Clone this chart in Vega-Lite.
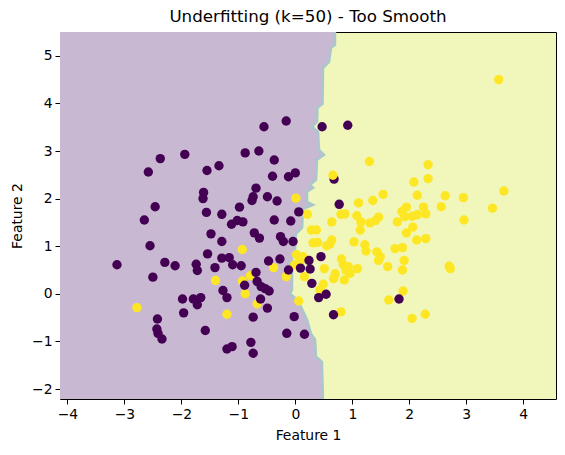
{
  "$schema": "https://vega.github.io/schema/vega-lite/v6.json",
  "width": 496,
  "height": 367,
  "autosize": "none",
  "padding": {"left": 60, "top": 32, "right": 9, "bottom": 56},
  "title": {"text": "Underfitting (k=50) - Too Smooth", "font": "DejaVu Sans", "fontSize": 16.7, "fontWeight": "normal", "color": "#000", "offset": 6},
  "config": {
    "view": {"stroke": "#000", "strokeWidth": 1, "fill": "#f1f6bb"},
    "axis": {"domain": false, "grid": false, "tickColor": "#000", "tickSize": 5, "tickWidth": 1, "labelFont": "DejaVu Sans", "labelFontSize": 13.9, "labelColor": "#000", "labelPadding": 3, "titleFont": "DejaVu Sans", "titleFontSize": 13.9, "titleFontWeight": "normal", "titleColor": "#000", "format": "d"}
  },
  "datasets": {
    "boundary": [
      {"by": 5.6, "bx": 0.696},
      {"by": 5.231, "bx": 0.696},
      {"by": 5.168, "bx": 0.626},
      {"by": 4.874, "bx": 0.591},
      {"by": 4.748, "bx": 0.486},
      {"by": 3.992, "bx": 0.477},
      {"by": 3.908, "bx": 0.389},
      {"by": 3.613, "bx": 0.381},
      {"by": 3.508, "bx": 0.293},
      {"by": 3.403, "bx": 0.398},
      {"by": 3.025, "bx": 0.416},
      {"by": 2.92, "bx": 0.504},
      {"by": 2.815, "bx": 0.381},
      {"by": 2.395, "bx": 0.363},
      {"by": 2.29, "bx": 0.258},
      {"by": 2.227, "bx": 0.311},
      {"by": 2.143, "bx": 0.205},
      {"by": 1.933, "bx": 0.205},
      {"by": 1.87, "bx": 0.311},
      {"by": 1.786, "bx": 0.135},
      {"by": 1.387, "bx": 0.118},
      {"by": 1.261, "bx": 0.012},
      {"by": 0.924, "bx": -0.005},
      {"by": 0.819, "bx": -0.058},
      {"by": 0.693, "bx": -0.058},
      {"by": 0.63, "bx": -0.111},
      {"by": 0.546, "bx": -0.058},
      {"by": 0.084, "bx": -0.058},
      {"by": 0.0, "bx": -0.093},
      {"by": -0.084, "bx": -0.005},
      {"by": -0.273, "bx": 0.1},
      {"by": -0.546, "bx": 0.205},
      {"by": -0.84, "bx": 0.275},
      {"by": -0.966, "bx": 0.346},
      {"by": -1.324, "bx": 0.363},
      {"by": -1.429, "bx": 0.467},
      {"by": -2.3, "bx": 0.486}
    ],
    "points": [
      {"x": -2.78, "y": -0.29, "c": 1},
      {"x": 0.01, "y": 2.01, "c": 1},
      {"x": 0.21, "y": 1.67, "c": 1},
      {"x": -0.93, "y": 0.93, "c": 1},
      {"x": -0.38, "y": 0.55, "c": 1},
      {"x": -0.16, "y": 0.36, "c": 1},
      {"x": 0.02, "y": 0.82, "c": 1},
      {"x": -0.01, "y": 0.61, "c": 1},
      {"x": 0.16, "y": 0.36, "c": 1},
      {"x": -0.79, "y": 0.38, "c": 1},
      {"x": -0.93, "y": 0.27, "c": 1},
      {"x": -1.4, "y": 0.28, "c": 1},
      {"x": -0.88, "y": 0.0, "c": 1},
      {"x": -0.67, "y": -0.21, "c": 1},
      {"x": 0.06, "y": -0.15, "c": 1},
      {"x": -1.2, "y": -0.43, "c": 1},
      {"x": 1.3, "y": 2.78, "c": 1},
      {"x": 2.08, "y": 2.35, "c": 1},
      {"x": 2.14, "y": 2.07, "c": 1},
      {"x": 1.11, "y": 1.91, "c": 1},
      {"x": 1.36, "y": 1.96, "c": 1},
      {"x": 1.54, "y": 2.09, "c": 1},
      {"x": 0.8, "y": 1.67, "c": 1},
      {"x": 0.87, "y": 1.68, "c": 1},
      {"x": 1.08, "y": 1.64, "c": 1},
      {"x": 1.15, "y": 1.51, "c": 1},
      {"x": 1.31, "y": 1.49, "c": 1},
      {"x": 1.46, "y": 1.61, "c": 1},
      {"x": 1.41, "y": 1.54, "c": 1},
      {"x": 0.64, "y": 1.51, "c": 1},
      {"x": 1.79, "y": 1.51, "c": 1},
      {"x": 1.87, "y": 1.73, "c": 1},
      {"x": 1.95, "y": 1.82, "c": 1},
      {"x": 1.92, "y": 1.62, "c": 1},
      {"x": 2.05, "y": 1.63, "c": 1},
      {"x": 2.14, "y": 1.66, "c": 1},
      {"x": 0.28, "y": 1.34, "c": 1},
      {"x": 0.37, "y": 1.34, "c": 1},
      {"x": 1.14, "y": 1.34, "c": 1},
      {"x": 1.95, "y": 1.28, "c": 1},
      {"x": 2.13, "y": 1.13, "c": 1},
      {"x": 0.31, "y": 1.07, "c": 1},
      {"x": 0.39, "y": 1.08, "c": 1},
      {"x": 0.55, "y": 1.01, "c": 1},
      {"x": 0.64, "y": 1.13, "c": 1},
      {"x": 0.61, "y": 1.05, "c": 1},
      {"x": 1.03, "y": 1.09, "c": 1},
      {"x": 1.22, "y": 1.03, "c": 1},
      {"x": 1.24, "y": 0.9, "c": 1},
      {"x": 1.43, "y": 0.88, "c": 1},
      {"x": 1.49, "y": 0.78, "c": 1},
      {"x": 1.46, "y": 0.7, "c": 1},
      {"x": 1.75, "y": 0.95, "c": 1},
      {"x": 1.88, "y": 0.97, "c": 1},
      {"x": 1.91, "y": 0.7, "c": 1},
      {"x": 1.88, "y": 0.5, "c": 1},
      {"x": 1.62, "y": 0.57, "c": 1},
      {"x": 0.13, "y": 0.78, "c": 1},
      {"x": 0.08, "y": 0.68, "c": 1},
      {"x": 0.51, "y": 0.53, "c": 1},
      {"x": 0.81, "y": 0.73, "c": 1},
      {"x": 0.84, "y": 0.61, "c": 1},
      {"x": 0.93, "y": 0.57, "c": 1},
      {"x": 0.89, "y": 0.49, "c": 1},
      {"x": 0.96, "y": 0.43, "c": 1},
      {"x": 1.09, "y": 0.53, "c": 1},
      {"x": 0.7, "y": 0.42, "c": 1},
      {"x": 0.67, "y": 0.32, "c": 1},
      {"x": 0.86, "y": 0.29, "c": 1},
      {"x": 0.49, "y": 0.2, "c": 1},
      {"x": 0.43, "y": 0.08, "c": 1},
      {"x": 0.8, "y": -0.38, "c": 1},
      {"x": 1.89, "y": 0.06, "c": 1},
      {"x": 1.64, "y": -0.13, "c": 1},
      {"x": 2.05, "y": -0.52, "c": 1},
      {"x": 3.57, "y": 4.5, "c": 1},
      {"x": 2.33, "y": 2.71, "c": 1},
      {"x": 2.33, "y": 2.42, "c": 1},
      {"x": 2.63, "y": 2.06, "c": 1},
      {"x": 2.95, "y": 2.02, "c": 1},
      {"x": 3.66, "y": 2.16, "c": 1},
      {"x": 3.46, "y": 1.8, "c": 1},
      {"x": 2.56, "y": 1.83, "c": 1},
      {"x": 2.25, "y": 1.82, "c": 1},
      {"x": 2.29, "y": 1.68, "c": 1},
      {"x": 2.96, "y": 1.55, "c": 1},
      {"x": 2.06, "y": 1.4, "c": 1},
      {"x": 2.29, "y": 1.16, "c": 1},
      {"x": 2.72, "y": 0.53, "c": 1},
      {"x": 2.7, "y": 0.58, "c": 1},
      {"x": 2.28, "y": -0.43, "c": 1},
      {"x": -2.37, "y": 2.84, "c": 0},
      {"x": -1.94, "y": 2.93, "c": 0},
      {"x": -2.58, "y": 2.56, "c": 0},
      {"x": -2.46, "y": 1.83, "c": 0},
      {"x": -2.65, "y": 1.55, "c": 0},
      {"x": -2.55, "y": 1.01, "c": 0},
      {"x": -3.13, "y": 0.61, "c": 0},
      {"x": -2.29, "y": 0.66, "c": 0},
      {"x": -2.11, "y": 0.59, "c": 0},
      {"x": -2.5, "y": 0.35, "c": 0},
      {"x": -1.98, "y": -0.11, "c": 0},
      {"x": -1.96, "y": -0.4, "c": 0},
      {"x": -2.42, "y": -0.53, "c": 0},
      {"x": -2.43, "y": -0.74, "c": 0},
      {"x": -2.41, "y": -0.83, "c": 0},
      {"x": -2.34, "y": -0.95, "c": 0},
      {"x": -0.16, "y": 3.63, "c": 0},
      {"x": -0.55, "y": 3.51, "c": 0},
      {"x": -0.88, "y": 2.96, "c": 0},
      {"x": -0.64, "y": 3.0, "c": 0},
      {"x": -0.37, "y": 2.81, "c": 0},
      {"x": -1.34, "y": 2.69, "c": 0},
      {"x": -1.55, "y": 2.59, "c": 0},
      {"x": -0.4, "y": 2.47, "c": 0},
      {"x": -0.12, "y": 2.46, "c": 0},
      {"x": 0.0, "y": 2.54, "c": 0},
      {"x": -1.61, "y": 2.13, "c": 0},
      {"x": -1.62, "y": 2.0, "c": 0},
      {"x": -0.69, "y": 2.22, "c": 0},
      {"x": -0.74, "y": 2.04, "c": 0},
      {"x": -0.76, "y": 1.96, "c": 0},
      {"x": -0.49, "y": 2.04, "c": 0},
      {"x": -0.32, "y": 1.95, "c": 0},
      {"x": -0.98, "y": 1.82, "c": 0},
      {"x": -1.56, "y": 1.71, "c": 0},
      {"x": -1.29, "y": 1.67, "c": 0},
      {"x": 0.06, "y": 1.72, "c": 0},
      {"x": -0.37, "y": 1.55, "c": 0},
      {"x": -0.08, "y": 1.53, "c": 0},
      {"x": -1.12, "y": 1.46, "c": 0},
      {"x": -1.02, "y": 1.54, "c": 0},
      {"x": -0.92, "y": 1.51, "c": 0},
      {"x": -1.48, "y": 1.26, "c": 0},
      {"x": -1.29, "y": 1.1, "c": 0},
      {"x": -0.72, "y": 1.28, "c": 0},
      {"x": -0.63, "y": 1.17, "c": 0},
      {"x": -0.26, "y": 1.2, "c": 0},
      {"x": -0.21, "y": 1.1, "c": 0},
      {"x": -0.04, "y": 1.1, "c": 0},
      {"x": -1.54, "y": 0.84, "c": 0},
      {"x": -1.29, "y": 0.75, "c": 0},
      {"x": -1.16, "y": 0.76, "c": 0},
      {"x": -1.1, "y": 0.61, "c": 0},
      {"x": -0.95, "y": 0.59, "c": 0},
      {"x": -1.41, "y": 0.55, "c": 0},
      {"x": -1.74, "y": 0.62, "c": 0},
      {"x": -1.72, "y": 0.49, "c": 0},
      {"x": -0.47, "y": 0.69, "c": 0},
      {"x": -0.27, "y": 0.73, "c": 0},
      {"x": -0.12, "y": 0.5, "c": 0},
      {"x": -0.69, "y": 0.45, "c": 0},
      {"x": -0.89, "y": 0.18, "c": 0},
      {"x": -0.67, "y": 0.26, "c": 0},
      {"x": -0.6, "y": 0.15, "c": 0},
      {"x": -0.53, "y": 0.11, "c": 0},
      {"x": -0.46, "y": 0.06, "c": 0},
      {"x": -1.27, "y": 0.07, "c": 0},
      {"x": -1.2, "y": -0.08, "c": 0},
      {"x": -0.61, "y": -0.11, "c": 0},
      {"x": -0.49, "y": -0.3, "c": 0},
      {"x": -1.79, "y": -0.11, "c": 0},
      {"x": -1.72, "y": -0.23, "c": 0},
      {"x": -1.66, "y": -0.08, "c": 0},
      {"x": -0.74, "y": -0.49, "c": 0},
      {"x": -0.02, "y": -0.48, "c": 0},
      {"x": -1.58, "y": -0.77, "c": 0},
      {"x": -0.15, "y": -0.83, "c": 0},
      {"x": 0.16, "y": -0.85, "c": 0},
      {"x": -0.78, "y": -1.02, "c": 0},
      {"x": -1.11, "y": -1.11, "c": 0},
      {"x": -1.2, "y": -1.16, "c": 0},
      {"x": -0.74, "y": -1.25, "c": 0},
      {"x": 0.47, "y": 3.51, "c": 0},
      {"x": 0.92, "y": 3.54, "c": 0},
      {"x": 0.68, "y": 2.41, "c": 0},
      {"x": 0.77, "y": 1.88, "c": 0},
      {"x": 0.45, "y": 0.78, "c": 0},
      {"x": 0.24, "y": 0.7, "c": 0},
      {"x": 0.09, "y": 0.54, "c": 0},
      {"x": 0.26, "y": 0.52, "c": 0},
      {"x": 0.29, "y": 0.22, "c": 0},
      {"x": 0.54, "y": -0.01, "c": 0},
      {"x": 0.41, "y": -0.08, "c": 0},
      {"x": 0.67, "y": -0.44, "c": 0},
      {"x": 1.82, "y": -0.11, "c": 0},
      {"x": 0.66, "y": 2.49, "c": 1}
    ]
  },
  "layer": [
    {
      "data": {"name": "boundary"},
      "mark": {"type": "area", "orient": "horizontal", "color": "#c8b8d1", "clip": true},
      "encoding": {
        "y": {"field": "by", "type": "quantitative", "scale": {"domain": [-2.21, 5.5], "nice": false, "zero": false}, "axis": {"title": "Feature 2", "values": [-2, -1, 0, 1, 2, 3, 4, 5], "titlePadding": 7}},
        "x": {"field": "bx", "type": "quantitative", "scale": {"domain": [-4.13, 4.575], "nice": false, "zero": false}, "axis": {"title": "Feature 1", "values": [-4, -3, -2, -1, 0, 1, 2, 3, 4], "titlePadding": 8}},
        "x2": {"datum": -4.13}
      }
    },
    {
      "data": {"name": "boundary"},
      "mark": {"type": "line", "color": "#a9c8cb", "strokeWidth": 2.5, "clip": true},
      "encoding": {
        "y": {"field": "by", "type": "quantitative"},
        "x": {"field": "bx", "type": "quantitative"},
        "order": {"field": "by", "sort": "descending"}
      }
    },
    {
      "data": {"name": "points"},
      "mark": {"type": "circle", "size": 88, "opacity": 1},
      "encoding": {
        "x": {"field": "x", "type": "quantitative"},
        "y": {"field": "y", "type": "quantitative"},
        "color": {"field": "c", "type": "nominal", "scale": {"domain": [0, 1], "range": ["#440154", "#fde725"]}, "legend": null}
      }
    }
  ]
}
